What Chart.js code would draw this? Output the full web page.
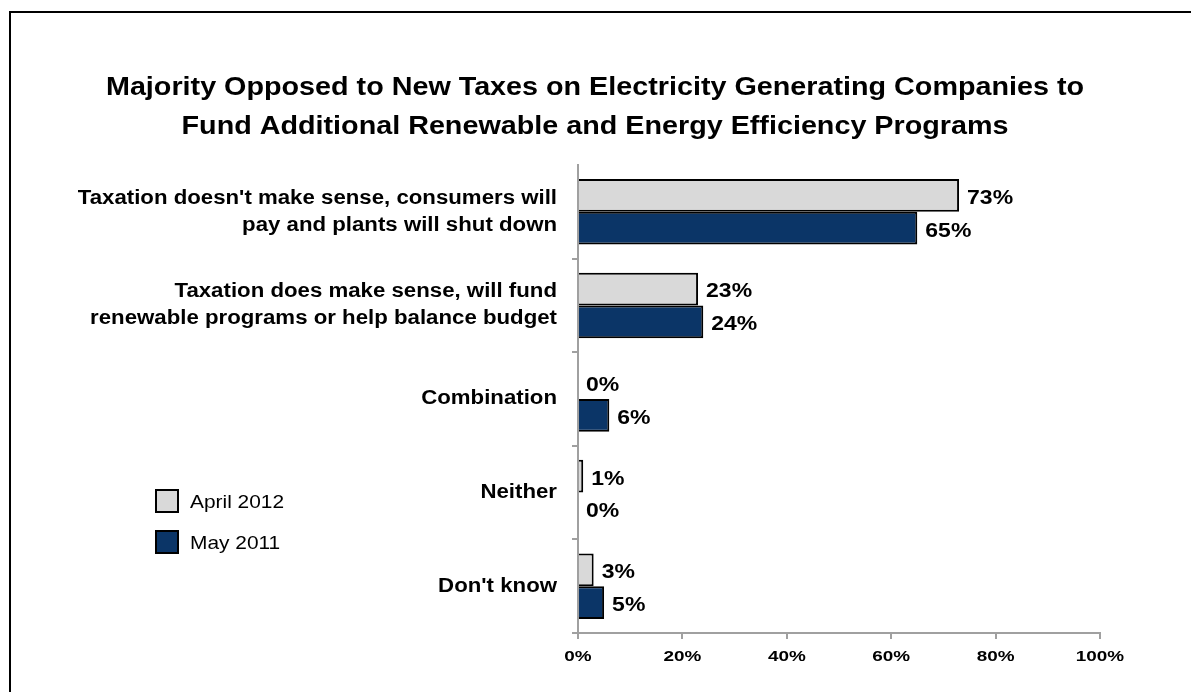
<!DOCTYPE html>
<html>
<head>
<meta charset="utf-8">
<script src="https://cdn.jsdelivr.net/npm/chart.js@4/dist/chart.umd.min.js"></script>
<style>
  html, body { margin: 0; padding: 0; background: #fff; overflow: hidden; }
  #wrap { position: relative; width: 1191px; height: 692px; }
  #frame { position: absolute; left: 9px; top: 11px; width: 1300px; height: 800px; border: 2px solid #000; box-sizing: border-box; pointer-events: none; }
  canvas { position: absolute; left: 0; top: 0; }
</style>
</head>
<body>
<div id="wrap">
  <canvas id="c" width="1191" height="692"></canvas>
  <div id="frame"></div>
</div>
<script>
const titleLines = [
  "Majority Opposed to New Taxes on Electricity Generating Companies to",
  "Fund Additional Renewable and Energy Efficiency Programs"
];
const categories = [
  ["Taxation doesn't make sense, consumers will", "pay and plants will shut down"],
  ["Taxation does make sense, will fund", "renewable programs or help balance budget"],
  "Combination",
  "Neither",
  "Don't know"
];
const seriesNames = ["April 2012", "May 2011"];
const april2012 = [73, 23, 0, 1, 3];
const may2011 = [65, 24, 6, 0, 5];
const xTicks = [0, 20, 40, 60, 80, 100];

const FONT = "'Liberation Sans', Arial, Helvetica, sans-serif";
const GREY = "#d9d9d9";
const BLUE = "#0b3567";
const AXIS = "#a0a0a0";

function stretchText(ctx, text, x, y, sx, align) {
  ctx.save();
  ctx.translate(x, y);
  ctx.scale(sx, 1);
  ctx.textAlign = align;
  ctx.fillText(text, 0, 0);
  ctx.restore();
}

const extras = {
  id: 'extras',
  afterDraw(chart) {
    const ctx = chart.ctx;
    const xs = chart.scales.x, ys = chart.scales.y;
    ctx.save();
    ctx.fillStyle = "#000";
    ctx.textBaseline = "middle";
    // title
    ctx.font = "bold 26px " + FONT;
    stretchText(ctx, titleLines[0], 595, 88, 1.105, "center");
    stretchText(ctx, titleLines[1], 595, 127, 1.105, "center");
    // category labels
    ctx.font = "bold 19.5px " + FONT;
    chart.data.labels.forEach((lab, i) => {
      const cy = ys.getPixelForValue(i);
      const lines = Array.isArray(lab) ? lab : [lab];
      const lh = 27;
      lines.forEach((ln, k) => {
        const y = cy + (k - (lines.length - 1) / 2) * lh;
        stretchText(ctx, ln, 557, y, 1.14, "right");
      });
    });
    // x tick labels
    ctx.font = "bold 15.5px " + FONT;
    xTicks.forEach(v => {
      stretchText(ctx, v + "%", xs.getPixelForValue(v), 657, 1.22, "center");
    });
    // data labels
    ctx.font = "bold 19.5px " + FONT;
    chart.data.datasets.forEach((ds, di) => {
      const meta = chart.getDatasetMeta(di);
      meta.data.forEach((bar, i) => {
        stretchText(ctx, ds.data[i] + "%", bar.x + 8, bar.y + 3, 1.18, "left");
      });
    });
    // legend
    const items = [
      { label: chart.data.datasets[0].label, color: GREY, y: 501 },
      { label: chart.data.datasets[1].label, color: BLUE, y: 542 }
    ];
    ctx.font = "19px " + FONT;
    items.forEach(it => {
      ctx.fillStyle = it.color;
      ctx.fillRect(156, it.y - 11, 22, 22);
      ctx.strokeStyle = "#000";
      ctx.lineWidth = 2;
      ctx.strokeRect(156, it.y - 11, 22, 22);
      ctx.fillStyle = "#000";
      stretchText(ctx, it.label, 190, it.y + 2, 1.1, "left");
    });
    ctx.restore();
  }
};

new Chart(document.getElementById('c'), {
  type: 'bar',
  data: {
    labels: categories,
    datasets: [
      { label: seriesNames[0], data: april2012, backgroundColor: GREY, borderColor: "#000", borderWidth: 2, borderSkipped: 'start', categoryPercentage: 0.7, barPercentage: 1.0 },
      { label: seriesNames[1], data: may2011, backgroundColor: BLUE, borderColor: "#000", borderWidth: 2, borderSkipped: 'start', categoryPercentage: 0.7, barPercentage: 1.0 }
    ]
  },
  options: {
    indexAxis: 'y',
    responsive: false,
    animation: false,
    layout: { padding: { top: 165, right: 91, left: 0, bottom: 0 } },
    plugins: { legend: { display: false }, title: { display: false }, tooltip: { enabled: false } },
    scales: {
      x: {
        min: 0, max: 100,
        afterBuildTicks(axis) { axis.ticks = xTicks.map(v => ({ value: v })); },
        afterFit(axis) { axis.height = 59; },
        grid: { drawOnChartArea: false, drawTicks: true, tickLength: 6, color: AXIS, lineWidth: 2 },
        border: { color: AXIS, width: 2 },
        ticks: { display: false }
      },
      y: {
        afterFit(axis) { axis.width = 578; },
        grid: { drawOnChartArea: false, drawTicks: true, tickLength: 6, color: AXIS, tickColor: c => (c.index === 0 ? 'rgba(0,0,0,0)' : AXIS), lineWidth: 2, offset: true },
        border: { color: AXIS, width: 2 },
        ticks: { display: false }
      }
    }
  },
  plugins: [extras]
});
</script>
</body>
</html>
